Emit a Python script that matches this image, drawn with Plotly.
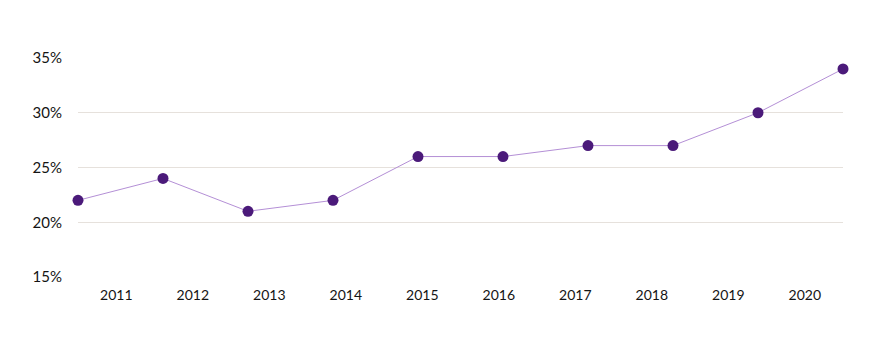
import plotly.graph_objects as go

years = ["2011", "2012", "2013", "2014", "2015", "2016", "2017", "2018", "2019", "2020"]
values = [22, 24, 21, 22, 26, 26, 27, 27, 30, 34]
y_ticks = [15, 20, 25, 30, 35]
y_tick_labels = ["15%", "20%", "25%", "30%", "35%"]

n = len(years)
x_points = list(range(n))
span = n - 1
label_pos = [(i + 0.5) * span / n for i in range(n)]

fig = go.Figure()
fig.add_trace(go.Scatter(
    x=x_points, y=values, mode="lines+markers",
    line=dict(color="#b48fd6", width=1),
    marker=dict(color="#4b1a7a", size=11),
    cliponaxis=False, hoverinfo="skip",
))

fig.update_layout(
    width=886, height=357,
    margin=dict(l=70, r=51, t=50, b=88),
    paper_bgcolor="white", plot_bgcolor="white",
    showlegend=False,
    font=dict(family="Lato, Open Sans, sans-serif", color="#141414"),
    xaxis=dict(
        range=[0, span], tickmode="array", tickvals=label_pos, ticktext=years,
        showgrid=False, zeroline=False, showline=False, ticks="",
        tickfont=dict(size=14), ticklabelstandoff=8,
    ),
    yaxis=dict(
        range=[15, 35], tickmode="array", tickvals=y_ticks, ticktext=y_tick_labels,
        showgrid=True, gridcolor="#e6e1dc", gridwidth=1,
        zeroline=False, showline=False, ticks="",
        tickfont=dict(size=15), ticklabelstandoff=15,
    ),
)

fig.write_html("out.html")
